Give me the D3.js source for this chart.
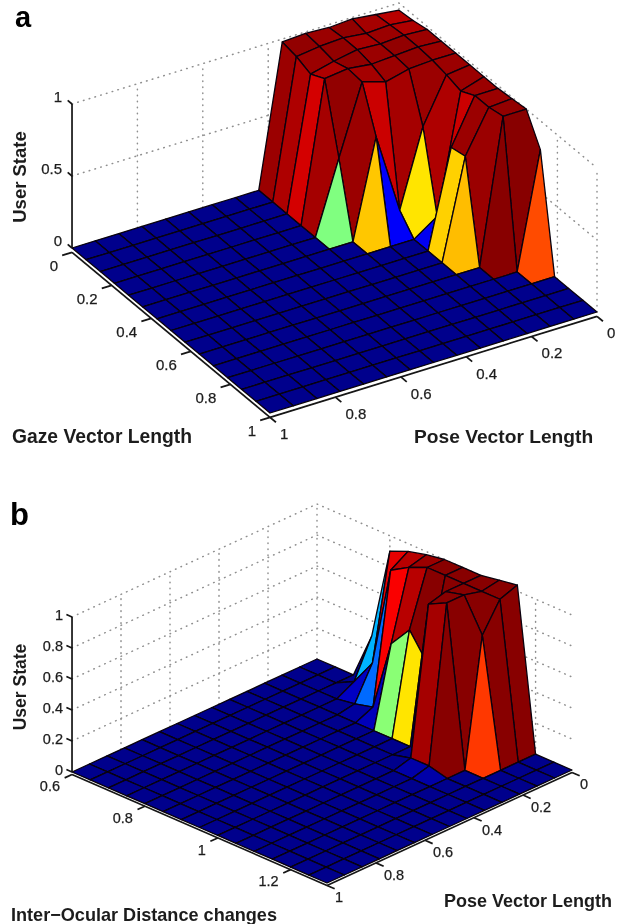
<!DOCTYPE html>
<html>
<head>
<meta charset="utf-8">
<script src="https://d3js.org/d3.v7.min.js"></script>
<style>
  html, body { margin: 0; padding: 0; background: #fff; }
  text { font-family: "Liberation Sans", Arial, sans-serif; fill: #1c1c1c; }
</style>
</head>
<body>
<svg id="figure" width="619" height="924"></svg>
<script>
// Panel a: rows are gaze, columns are pose
var gazeGrid = [0, 0.071, 0.143, 0.214, 0.286, 0.357, 0.429, 0.5, 0.571, 0.643, 0.714, 0.786, 0.857, 0.929, 1];
var poseGrid = [0, 0.071, 0.143, 0.214, 0.286, 0.357, 0.429, 0.5, 0.571, 0.643, 0.714, 0.786, 0.857, 0.929, 1];
var stateByGaze = [
  [0.95, 0.97, 0.99, 0.98, 0.99, 0.98, 0, 0, 0, 0, 0, 0, 0, 0, 0],
  [0.96, 0.98, 0.97, 0.99, 0.98, 0.96, 0, 0, 0, 0, 0, 0, 0, 0, 0],
  [0.98, 0.99, 0.98, 0.99, 0.96, 0.92, 0, 0, 0, 0, 0, 0, 0, 0, 0],
  [0.98, 0.99, 0.98, 0.97, 0.99, 0.97, 0, 0, 0, 0, 0, 0, 0, 0, 0],
  [0.98, 0.98, 0.97, 0.93, 0.98, 0.50, 0, 0, 0, 0, 0, 0, 0, 0, 0],
  [0.98, 0.96, 0.65, 0.12, 0.68, 0, 0, 0, 0, 0, 0, 0, 0, 0, 0],
  [0.98, 0.93, 0.11, 0, 0, 0, 0, 0, 0, 0, 0, 0, 0, 0, 0],
  [0.98, 0.98, 0.67, 0, 0, 0, 0, 0, 0, 0, 0, 0, 0, 0, 0],
  [0.99, 0.98, 0.69, 0, 0, 0, 0, 0, 0, 0, 0, 0, 0, 0, 0],
  [1, 1, 0, 0, 0, 0, 0, 0, 0, 0, 0, 0, 0, 0, 0],
  [0.80, 0, 0, 0, 0, 0, 0, 0, 0, 0, 0, 0, 0, 0, 0],
  [0, 0, 0, 0, 0, 0, 0, 0, 0, 0, 0, 0, 0, 0, 0],
  [0, 0, 0, 0, 0, 0, 0, 0, 0, 0, 0, 0, 0, 0, 0],
  [0, 0, 0, 0, 0, 0, 0, 0, 0, 0, 0, 0, 0, 0, 0],
  [0, 0, 0, 0, 0, 0, 0, 0, 0, 0, 0, 0, 0, 0, 0]
];
var gazeTicks = [0, 0.2, 0.4, 0.6, 0.8, 1];
var poseTicks = [0, 0.2, 0.4, 0.6, 0.8, 1];
var stateTicksA = [0, 0.5, 1];

// Panel b: rows are inter-ocular distance, columns are pose
var ocularGrid = [0.6, 0.65, 0.7, 0.75, 0.8, 0.85, 0.9, 0.95, 1, 1.05, 1.1, 1.15, 1.2, 1.25, 1.3];
var stateByOcular = [
  [0, 0, 0, 0, 0, 0, 0, 0, 0, 0, 0, 0, 0, 0, 0],
  [0, 0, 0, 0, 0, 0, 0, 0, 0, 0, 0, 0, 0, 0, 0],
  [0, 0, 0, 0, 0, 0, 0, 0, 0, 0, 0, 0, 0, 0, 0],
  [0.30, 0.06, 0, 0, 0, 0, 0, 0, 0, 0, 0, 0, 0, 0, 0],
  [0.90, 0.23, 0.02, 0, 0, 0, 0, 0, 0, 0, 0, 0, 0, 0, 0],
  [0.95, 0.88, 0.05, 0, 0, 0, 0, 0, 0, 0, 0, 0, 0, 0, 0],
  [0.98, 0.95, 0.51, 0, 0, 0, 0, 0, 0, 0, 0, 0, 0, 0, 0],
  [1, 1, 0.65, 0, 0, 0, 0, 0, 0, 0, 0, 0, 0, 0, 0],
  [1, 1, 0.48, 0, 0, 0, 0, 0, 0, 0, 0, 0, 0, 0, 0],
  [1, 1, 1, 0.97, 0.03, 0, 0, 0, 0, 0, 0, 0, 0, 0, 0],
  [1.02, 1, 1.03, 1.03, 0.03, 0, 0, 0, 0, 0, 0, 0, 0, 0, 0],
  [1.04, 1, 0.82, 0, 0, 0, 0, 0, 0, 0, 0, 0, 0, 0, 0],
  [0, 0, 0, 0, 0, 0, 0, 0, 0, 0, 0, 0, 0, 0, 0],
  [0, 0, 0, 0, 0, 0, 0, 0, 0, 0, 0, 0, 0, 0, 0],
  [0, 0, 0, 0, 0, 0, 0, 0, 0, 0, 0, 0, 0, 0, 0]
];
var ocularTicks = [0.6, 0.8, 1, 1.2];
var stateTicksB = [0, 0.2, 0.4, 0.6, 0.8, 1];

// MATLAB jet, faces are flat coloured from their lowest index corner
var jet = d3.scaleLinear()
  .domain([0, 0.125, 0.375, 0.625, 0.875, 1])
  .range(["#00008c", "#0000ff", "#00ffff", "#ffff00", "#ff0000", "#880000"])
  .clamp(true);

var svg = d3.select("#figure");
var defs = svg.append("defs");
defs.append("filter").attr("id", "soft")
  .append("feGaussianBlur").attr("stdDeviation", 0.45);
var root = svg.append("g").attr("filter", "url(#soft)");

// Three floor corners and the pixel height of state = 1 set the view
function makeProjection(p) {
  var rowScale = d3.scaleLinear().domain(d3.extent(p.rows)).range([0, 1]);
  var colScale = d3.scaleLinear().domain(d3.extent(p.cols)).range([0, 1]);
  var zScale = d3.scaleLinear().domain([0, 1]).range([0, p.zHeight]);
  return function (r, c, z) {
    var a = rowScale(r), b = colScale(c);
    return [
      p.back[0] + a * (p.right[0] - p.back[0]) + b * (p.left[0] - p.back[0]),
      p.back[1] + a * (p.right[1] - p.back[1]) + b * (p.left[1] - p.back[1]) - zScale(z)
    ];
  };
}

function drawPanel(p) {
  var g = root.append("g");
  var proj = makeProjection(p);
  var rowMin = d3.min(p.rows), rowMax = d3.max(p.rows);
  var colMin = d3.min(p.cols), colMax = d3.max(p.cols);
  var rowSpan = rowMax - rowMin, colSpan = colMax - colMin;
  var line = d3.line();

  // Dotted walls
  var walls = g.append("g")
    .attr("fill", "none").attr("stroke", "#8f8f8f")
    .attr("stroke-width", 1.5).attr("stroke-dasharray", "0.6 5.4")
    .attr("stroke-linecap", "round");
  p.zTicks.forEach(function (z) {
    if (z === 0) return;
    walls.append("path").attr("d", line([proj(rowMin, colMax, z), proj(rowMin, colMin, z), proj(rowMax, colMin, z)]));
  });
  p.colTicks.forEach(function (c) {
    if (c === colMax) return;
    walls.append("path").attr("d", line([proj(rowMin, c, 0), proj(rowMin, c, 1)]));
  });
  p.rowTicks.forEach(function (r) {
    if (r === rowMin) return;
    walls.append("path").attr("d", line([proj(r, colMin, 0), proj(r, colMin, 1)]));
  });

  // Surface, painted from the far corner to the near corner
  var faces = [];
  d3.range(p.rows.length - 1).forEach(function (i) {
    d3.range(p.cols.length - 1).forEach(function (j) {
      faces.push({ i: i, j: j, value: p.values[i][j] });
    });
  });
  g.append("g").selectAll("path")
    .data(faces)
    .enter().append("path")
    .attr("d", function (d) {
      var i = d.i, j = d.j;
      return line([
        proj(p.rows[i], p.cols[j], p.values[i][j]),
        proj(p.rows[i + 1], p.cols[j], p.values[i + 1][j]),
        proj(p.rows[i + 1], p.cols[j + 1], p.values[i + 1][j + 1]),
        proj(p.rows[i], p.cols[j + 1], p.values[i][j + 1])
      ]) + "Z";
    })
    .attr("fill", function (d) { return jet(d.value); })
    .attr("stroke", "#08040c")
    .attr("stroke-width", 1.3)
    .attr("stroke-linejoin", "round");

  // Axes, sitting just under the floor with a pale gap
  var axes = g.append("g").attr("fill", "none").attr("stroke", "#141414").attr("stroke-width", 1.7);
  axes.append("path").attr("d", line([proj(rowMin, colMax, 0), proj(rowMin, colMax, 1)]));
  axes.append("path").attr("d", line([proj(rowMin, colMax, -p.axisDrop), proj(rowMax, colMax, -p.axisDrop)]));
  axes.append("path").attr("d", line([proj(rowMax, colMax, -p.axisDrop), proj(rowMax, colMin, -p.axisDrop)]));

  p.zTicks.forEach(function (z) {
    axes.append("path").attr("d", line([proj(rowMin, colMax, z), proj(rowMin - 0.022 * rowSpan, colMax, z)]));
    g.append("text").attr("x", p.zLabel[0]).attr("y", proj(rowMin, colMax, z)[1] + p.zLabel[1])
      .attr("text-anchor", "end").attr("dominant-baseline", "middle")
      .attr("font-size", p.tickSize).attr("stroke", "#1c1c1c").attr("stroke-width", 0.25).text(z);
  });
  p.rowTicks.forEach(function (r) {
    var pt = proj(r, colMax, -p.axisDrop);
    axes.append("path").attr("d", line([pt, proj(r, colMax + 0.03 * colSpan, -p.axisDrop)]));
    g.append("text").attr("x", pt[0] + p.rowLabel[0]).attr("y", pt[1] + p.rowLabel[1])
      .attr("text-anchor", "end").attr("dominant-baseline", "middle")
      .attr("font-size", p.tickSize).attr("stroke", "#1c1c1c").attr("stroke-width", 0.25).text(r);
  });
  p.colTicks.forEach(function (c) {
    var pt = proj(rowMax, c, -p.axisDrop);
    axes.append("path").attr("d", line([pt, proj(rowMax + 0.03 * rowSpan, c, -p.axisDrop)]));
    g.append("text").attr("x", pt[0] + p.colLabel[0]).attr("y", pt[1] + p.colLabel[1])
      .attr("text-anchor", "start").attr("dominant-baseline", "middle")
      .attr("font-size", p.tickSize).attr("stroke", "#1c1c1c").attr("stroke-width", 0.25).text(c);
  });

  // Panel letter and axis titles
  g.append("text").attr("x", p.letter[0]).attr("y", p.letter[1])
    .attr("font-size", p.letterSize).attr("font-weight", "bold").style("fill", "#000").text(p.name);
  g.append("text")
    .attr("transform", "translate(" + p.zTitle[0] + "," + p.zTitle[1] + ") rotate(-90)")
    .attr("text-anchor", "middle").attr("font-size", p.zTitleSize).attr("font-weight", "bold").text("User State");
  p.titles.forEach(function (t) {
    g.append("text").attr("x", t.x).attr("y", t.y)
      .attr("font-size", t.size).attr("font-weight", "bold").text(t.text);
  });
}

drawPanel({
  name: "a", letter: [15, 27], letterSize: 29,
  rows: gazeGrid, cols: poseGrid, values: stateByGaze,
  rowTicks: gazeTicks, colTicks: poseTicks, zTicks: stateTicksA,
  back: [399, 147], left: [72, 248], right: [597, 312], zHeight: 144, axisDrop: 0.03,
  tickSize: 15, zLabel: [62, -6], rowLabel: [-14, 15], colLabel: [10, 18],
  zTitle: [26, 177], zTitleSize: 18.5,
  titles: [
    { text: "Gaze Vector Length", x: 12, y: 443, size: 19.3 },
    { text: "Pose Vector Length", x: 414, y: 443, size: 19.2 }
  ]
});

drawPanel({
  name: "b", letter: [10, 525], letterSize: 31,
  rows: ocularGrid, cols: poseGrid, values: stateByOcular,
  rowTicks: ocularTicks, colTicks: poseTicks, zTicks: stateTicksB,
  back: [317, 659], left: [72, 772], right: [572, 770], zHeight: 155, axisDrop: 0.016,
  tickSize: 14.5, zLabel: [63, -1], rowLabel: [-12, 13], colLabel: [8, 13],
  zTitle: [26, 687], zTitleSize: 17.5,
  titles: [
    { text: "Inter\u2212Ocular Distance changes", x: 11, y: 921, size: 18.1 },
    { text: "Pose Vector Length", x: 444, y: 907, size: 18 }
  ]
});
</script>
</body>
</html>
